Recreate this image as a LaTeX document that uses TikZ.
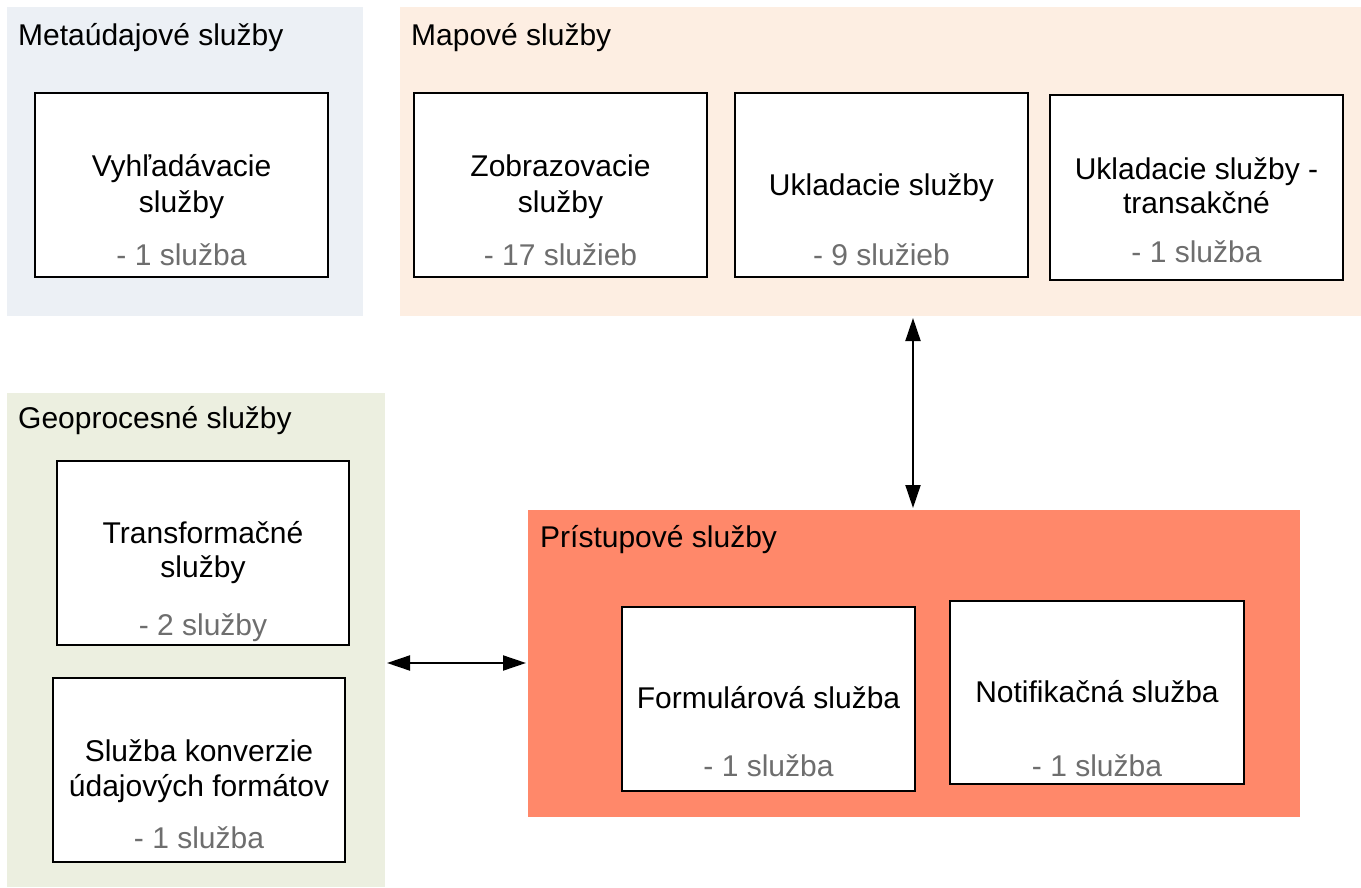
\documentclass[tikz,border=0pt]{standalone}
\usepackage{fontspec}
\setmainfont{Liberation Sans}
\usetikzlibrary{arrows.meta}
\definecolor{metabg}{RGB}{236,240,245}
\definecolor{mapabg}{RGB}{253,238,226}
\definecolor{geobg}{RGB}{236,239,224}
\definecolor{pristupbg}{RGB}{255,136,106}
\definecolor{cntgray}{RGB}{110,110,110}
\begin{document}
\begin{tikzpicture}[x=1pt,y=-1pt,
  panel/.style={draw=none,inner sep=0pt,outer sep=0pt,anchor=north west},
  svcbox/.style={draw=black,line width=1.6pt,fill=white,inner sep=0pt,outer sep=0pt,anchor=north west},
  txt/.style={font=\fontsize{30}{35}\selectfont,anchor=base,inner sep=0pt},
  ttl/.style={txt,anchor=base west},
  cnt/.style={txt,text=cntgray},
  arr/.style={line width=2pt,{Triangle[length=23pt,width=15pt]}-{Triangle[length=23pt,width=15pt]}}]
\useasboundingbox (0,0) rectangle (1361,888);
% panels
\node[panel,fill=metabg,minimum width=356pt,minimum height=309pt] (meta) at (7,7) {};
\node[panel,fill=mapabg,minimum width=961pt,minimum height=309pt] (mapa) at (400,7) {};
\node[panel,fill=geobg,minimum width=378pt,minimum height=494pt] (geo) at (7,393) {};
\node[panel,fill=pristupbg,minimum width=772pt,minimum height=307pt] (pristup) at (528,510) {};
% titles
\node[ttl] (tmeta) at (18,46) {Metaúdajové služby};
\node[ttl] (tmapa) at (411,46) {Mapové služby};
\node[ttl] (tgeo) at (18,428) {Geoprocesné služby};
\node[ttl] (tpristup) at (540,547) {Prístupové služby};
% boxes
\node[svcbox,minimum width=293pt,minimum height=184pt] (vyh) at (35,93) {};
\node[svcbox,minimum width=293pt,minimum height=184pt] (zob) at (414,93) {};
\node[svcbox,minimum width=293pt,minimum height=184pt] (ukl) at (735,93) {};
\node[svcbox,minimum width=293pt,minimum height=185pt] (ukt) at (1050,95) {};
\node[svcbox,minimum width=292pt,minimum height=184pt] (tra) at (57,461) {};
\node[svcbox,minimum width=292pt,minimum height=184pt] (kon) at (53,678) {};
\node[svcbox,minimum width=293pt,minimum height=184pt] (for) at (622,607) {};
\node[svcbox,minimum width=294pt,minimum height=183pt] (not) at (950,601) {};
% box texts
\node[txt] (vyh1) at (181.5,177) {Vyhľadávacie};
\node[txt] (vyh2) at (181.5,212) {služby};
\node[cnt] (vyh3) at (181.5,265) {- 1 služba};
\node[txt] (zob1) at (560.5,177) {Zobrazovacie};
\node[txt] (zob2) at (560.5,212) {služby};
\node[cnt] (zob3) at (560.5,265) {- 17 služieb};
\node[txt] (ukl1) at (881.5,196) {Ukladacie služby};
\node[cnt] (ukl2) at (881.5,265) {- 9 služieb};
\node[txt] (ukt1) at (1196.5,180) {Ukladacie služby -};
\node[txt] (ukt2) at (1196.5,214) {transakčné};
\node[cnt] (ukt3) at (1196.5,262) {- 1 služba};
\node[txt] (tra1) at (203,543) {Transformačné};
\node[txt] (tra2) at (203,577) {služby};
\node[cnt] (tra3) at (203,635) {- 2 služby};
\node[txt] (kon1) at (199,761) {Služba konverzie};
\node[txt] (kon2) at (199,796) {údajových formátov};
\node[cnt] (kon3) at (199,848) {- 1 služba};
\node[txt] (for1) at (768.5,708) {Formulárová služba};
\node[cnt] (for2) at (768.5,776) {- 1 služba};
\node[txt] (not1) at (1097,702) {Notifikačná služba};
\node[cnt] (not2) at (1097,776) {- 1 služba};
% connectors
\coordinate (vx) at (913,0);
\coordinate (hy) at (0,663);
\draw[arr,shorten <=2pt,shorten >=2pt] (mapa.south -| vx) -- (pristup.north -| vx);
\draw[arr,shorten <=2pt,shorten >=2pt] (geo.east |- hy) -- (pristup.west |- hy);
\end{tikzpicture}
\end{document}
